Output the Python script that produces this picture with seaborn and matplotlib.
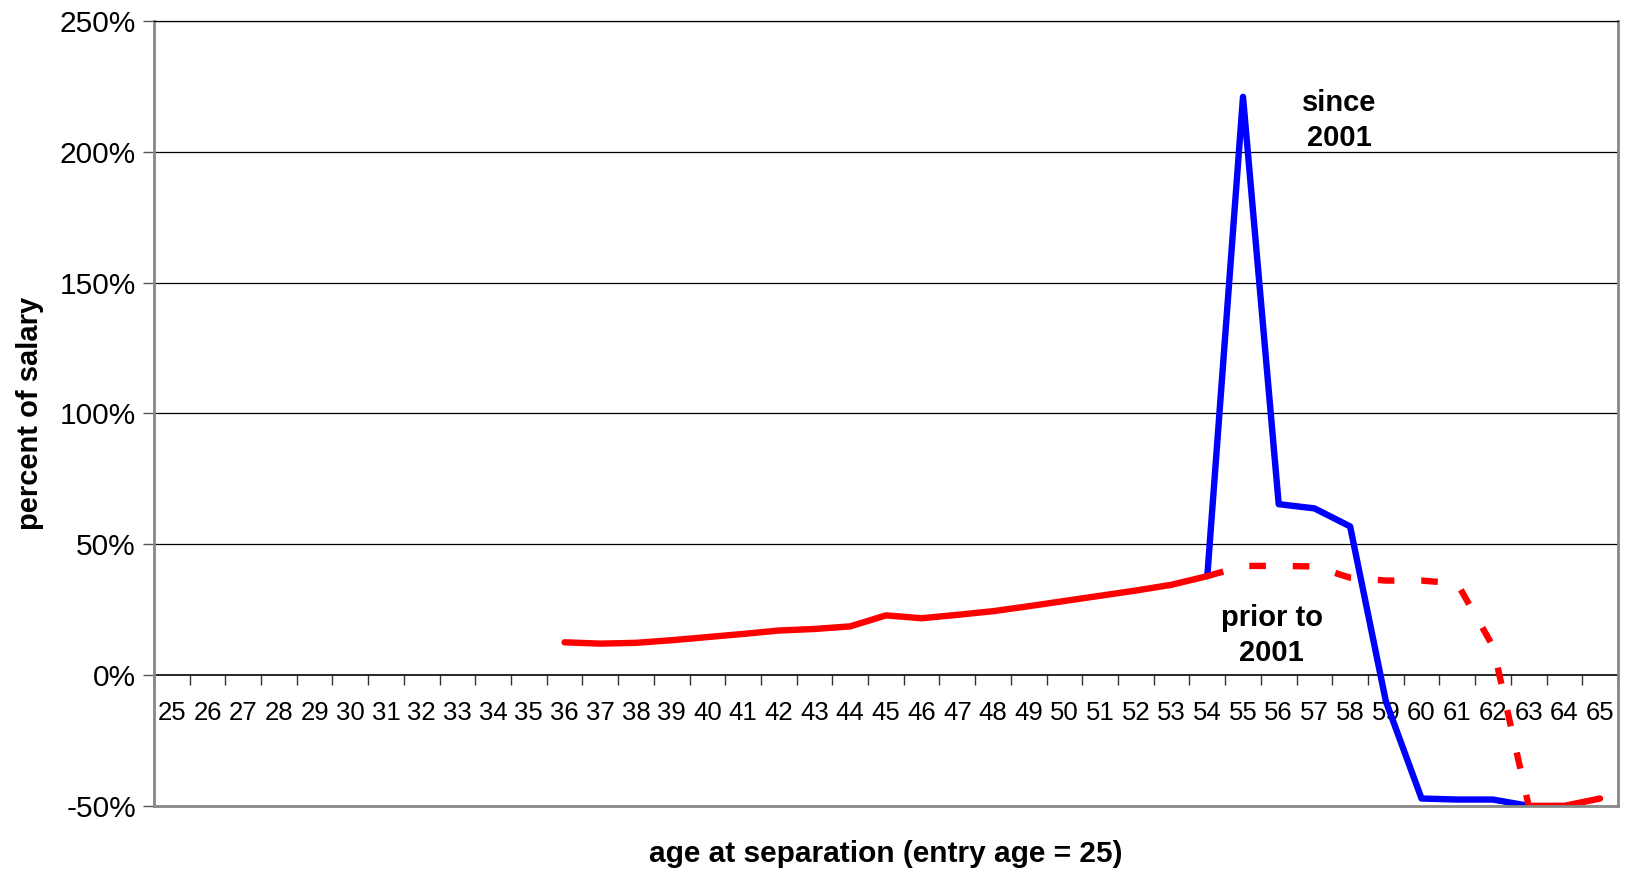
import numpy as np
import pandas as pd
import matplotlib
matplotlib.use("Agg")
import matplotlib.pyplot as plt
import seaborn as sns

# ---- data (percent of salary) ----
all_ages = list(range(25, 66))
early_ages = list(range(36, 55))
early_vals = [12.5, 12.0, 12.3, 13.3, 14.5, 15.7, 17.0, 17.6, 18.6, 22.8, 21.7, 23.0,
              24.4, 26.3, 28.3, 30.3, 32.3, 34.5, 37.8]
since_ages = list(range(54, 64))
since_vals = [37.8, 221.0, 65.3, 63.7, 56.8, -10.0, -47.2, -47.6, -47.6, -50.0]
prior_ages = list(range(54, 64))
prior_vals = [37.8, 41.7, 41.7, 41.5, 37.2, 36.1, 36.1, 35.0, 11.0, -50.0]
late_ages = [63, 64, 65]
late_vals = [-50.0, -50.0, -47.2]
y_ticks = [-50, 0, 50, 100, 150, 200, 250]

sns.set_theme(style="white")
plt.rcParams['font.family'] = ['Liberation Sans', 'DejaVu Sans']
plt.rcParams.update({'text.color': 'black', 'axes.labelcolor': 'black',
                     'xtick.color': 'black', 'ytick.color': 'black'})

fig = plt.figure(figsize=(16.29, 8.74), dpi=100)
ax = fig.add_axes([0.0945, 0.078, 0.8987, 0.898])

RED = "#ff0000"
BLUE = "#0000ff"
LW = 4.6

sns.lineplot(x=since_ages, y=since_vals, ax=ax, color=BLUE, lw=LW,
             solid_joinstyle='round', solid_capstyle='round')
sns.lineplot(x=early_ages, y=early_vals, ax=ax, color=RED, lw=LW,
             solid_joinstyle='round', solid_capstyle='round')
sns.lineplot(x=prior_ages, y=prior_vals, ax=ax, color=RED, lw=LW,
             dashes=False)
ax.lines[-1].set_dashes((2.6, 4.2))
ax.lines[-1].set_dash_capstyle('butt')
sns.lineplot(x=late_ages, y=late_vals, ax=ax, color=RED, lw=LW,
             solid_joinstyle='round', solid_capstyle='round')

ax.set_xlim(24.5, 65.5)
ax.set_ylim(-50, 250)

# y axis
ax.set_yticks(y_ticks)
ax.set_yticklabels([f"{v}%" for v in y_ticks], fontsize=21.5)
ax.tick_params(axis='y', which='major', direction='out', length=8, width=1, color='#555555',
               left=True, pad=5)
for v in y_ticks[2:]:
    ax.axhline(v, color='black', lw=0.9, zorder=0)

for s in ax.spines.values():
    s.set_color('#888888')
    s.set_linewidth(2)
ax.spines['top'].set_color('black')
ax.spines['top'].set_linewidth(0.9)

# main x axis: no ticks
ax.set_xticks([])

# category axis crossing at 0
sec = ax.secondary_xaxis(50 / 300)
sec.set_xticks(all_ages)
sec.set_xticklabels([str(a) for a in all_ages], fontsize=18.5)
sec.set_xticks(np.arange(24.5, 66, 1), minor=True)
sec.tick_params(axis='x', which='major', length=0, pad=19)
sec.tick_params(axis='x', which='minor', direction='out', length=7, width=1, color='#333333', bottom=True)
sec.spines['bottom'].set_color('black')
sec.spines['bottom'].set_linewidth(1.2)

ax.set_xlabel("age at separation (entry age = 25)", fontsize=21.5, fontweight='bold')
ax.xaxis.set_label_coords(0.5, -0.043)
ax.set_ylabel("percent of salary", fontsize=21, fontweight='bold')
ax.yaxis.set_label_coords(-0.075, 0.5)

ax.text(57.7, 212.0, "since\n2001", ha='center', va='center', fontsize=21,
        fontweight='bold', linespacing=1.3)
ax.text(55.8, 15.0, "prior to\n2001", ha='center', va='center', fontsize=21,
        fontweight='bold', linespacing=1.3)

fig.savefig("out.png", dpi=100)
